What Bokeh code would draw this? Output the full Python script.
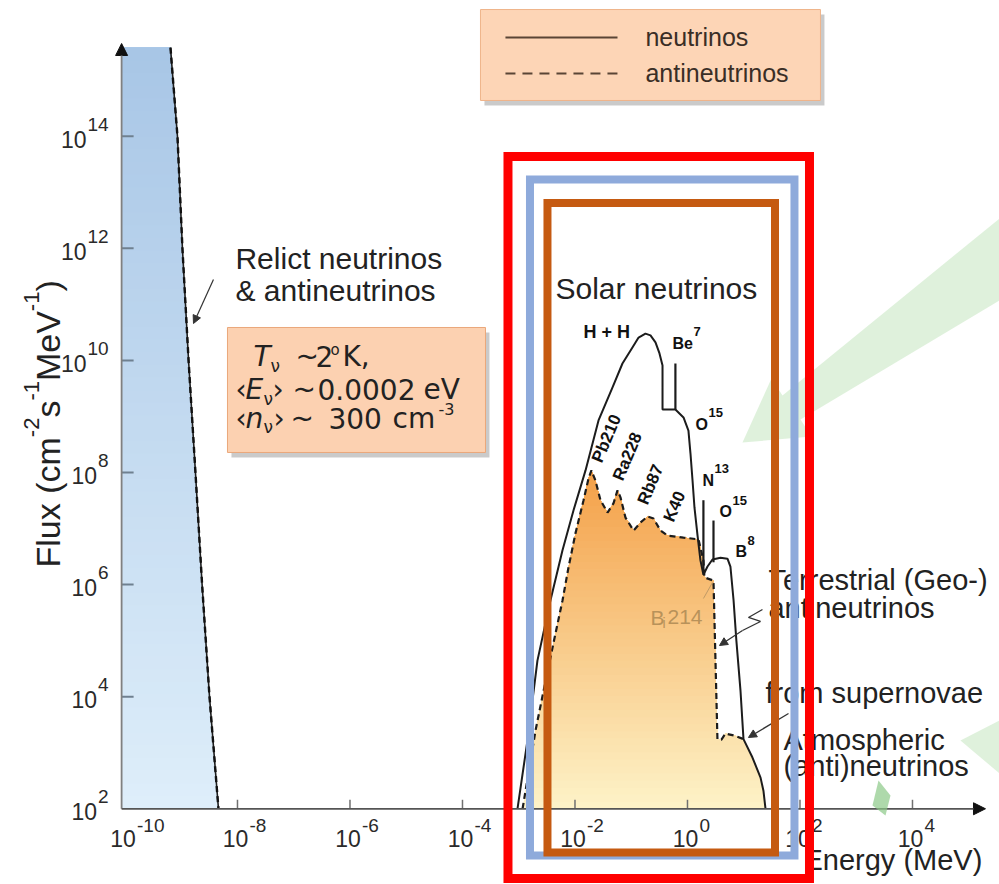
import numpy as np
from bokeh.plotting import figure
from bokeh.models import Range1d, Arrow, NormalHead
from bokeh.core.properties import value
from bokeh.embed import file_html
from bokeh.resources import INLINE

# ---------------- data (E in MeV, flux in cm^-2 s^-1 MeV^-1) ----------------
relict_E = [6.44e-10, 8.57e-10, 1.05e-9, 1.35e-9, 1.79e-9, 2.35e-9, 3.18e-9, 4.59e-9]
relict_flux = [3.8e15, 1e14, 1e12, 1e10, 1e8, 1e6, 1e4, 1e2]

solar_E = [9.5e-4, 1.43e-3, 2.15e-3, 3.66e-3, 6.0e-3, 9.4e-3, 1.54e-2, 2.62e-2, 4.65e-2, 6.98e-2,
           0.105, 0.135, 0.179, 0.22, 0.27, 0.318, 0.36, 0.36, 0.61, 0.85,
           1.04, 1.13, 1.23, 1.33, 1.51, 1.70, 1.92, 2.27, 2.78, 3.86,
           5.14, 5.8, 6.6, 7.4, 8.75, 9.9]
solar_flux = [1e2, 1.66e3, 4.4e4, 5.2e5, 4.1e6, 2.1e7, 1.09e8, 8.5e8, 3.3e9, 8.8e9,
              1.7e10, 2.56e10, 3.0e10, 2.8e10, 2.1e10, 1.33e10, 8.1e9, 1.33e9, 1.33e9, 9.6e8,
              5.6e8, 2.2e8, 7.2e7, 2.4e7, 7.5e6, 2.7e6, 1.5e6, 2.1e6, 2.8e6, 3.0e6,
              2.9e6, 2.1e6, 5.2e5, 1.0e5, 1.3e4, 1.75e3]

geo_E = [1.17e-3, 1.99e-3, 3.0e-3, 4.5e-3, 6.0e-3, 7.65e-3, 1.02e-2, 1.42e-2, 1.74e-2, 1.96e-2,
         2.31e-2, 2.84e-2, 3.79e-2, 4.83e-2, 5.7e-2, 6.44e-2, 7.9e-2, 0.11, 0.146, 0.195,
         0.249, 0.331, 0.44, 0.85, 1.57, 1.92, 2.0, 2.9, 3.41, 4.02, 4.74, 7.1, 9.9]
geo_flux = [1e2, 2.5e3, 1.9e4, 1.34e5, 5.2e5, 2.0e6, 8.2e6, 3.2e7, 7.8e7, 1.09e8,
            7.2e7, 3.2e7, 1.93e7, 2.8e7, 4.8e7, 3.6e7, 1.57e7, 9.2e6, 1.28e7, 1.64e7,
            1.51e7, 9.2e6, 7.5e6, 6.9e6, 6.4e6, 2.7e6, 1.34e6, 1.18e6, 1.72e3, 1.72e3,
            2.2e3, 2.0e3, 1.75e3]

snatm_E = [9.9, 14.3, 19.9, 22.4, 24.4]
snatm_flux = [1.75e3, 820, 360, 210, 1e2]

be7_E = [0.61, 0.61]
be7_flux = [1.33e9, 8.8e9]
n13_E = [1.92, 1.92]
n13_flux = [1.64e6, 3.2e7]
o15_E = [2.9, 2.9]
o15_flux = [2.5e6, 1.39e7]

x_tick_exp = [-10, -8, -6, -4, -2, 0, 2, 4]
y_tick_exp = [2, 4, 6, 8, 10, 12, 14]

# ---------------- figure ----------------
W, H = 999, 884
LX0, LX1 = -12.213, 5.547
LY0, LY1 = 0.649, 16.421
PPD_X = W / (LX1 - LX0)   # pixels per decade
PPD_Y = H / (LY1 - LY0)

p = figure(width=W, height=H, x_axis_type="log", y_axis_type="log",
           x_range=Range1d(10 ** LX0, 10 ** LX1), y_range=Range1d(10 ** LY0, 10 ** LY1),
           toolbar_location=None, output_backend="svg", min_border=0,
           x_axis_location=None, y_axis_location=None, title=None,
           outline_line_color=None, background_fill_color="white", border_fill_color="white")
p.grid.visible = False

LXAX = -10.06          # position of the vertical axis (log10 MeV)
LYAX = 2.0             # position of the horizontal axis (log10 flux)


def E(v):
    return 10 ** v


def txt(le, lf, s, size, font="Liberation Sans", style="normal", align="left",
        baseline="middle", color="#222222", angle=0.0):
    return p.text(x=[E(le)], y=[E(lf)], text=[s], text_font=value(font),
                  text_font_size=value(f"{size}px"), text_font_style=style,
                  text_align=align, text_baseline=baseline, text_color=color, angle=angle)


def hex2rgb(h):
    h = h.lstrip("#")
    return tuple(int(h[i:i + 2], 16) for i in (0, 2, 4))


def mix(c0, c1, t):
    a, b = hex2rgb(c0), hex2rgb(c1)
    return "#%02x%02x%02x" % tuple(int(round(a[i] + (b[i] - a[i]) * t)) for i in range(3))


def clip_above(poly, a):
    """keep the part of a (log-space) polygon with y >= a"""
    out = []
    n = len(poly)
    for i in range(n):
        cur, prev = poly[i], poly[i - 1]
        cin, pin = cur[1] >= a, prev[1] >= a
        if cin != pin:
            t = (a - prev[1]) / (cur[1] - prev[1])
            out.append((prev[0] + t * (cur[0] - prev[0]), a))
        if cin:
            out.append(cur)
    return out


def gradient_fill(poly, lo, hi, c_lo, c_hi, n):
    """vertical gradient: bands painted bottom-up, each covering everything above its floor"""
    xs, ys, cols = [], [], []
    step = (hi - lo) / n
    for i in range(n):
        a = lo + i * step
        q = poly if i == 0 else clip_above(poly, a)
        if len(q) < 3:
            continue
        c = mix(c_lo, c_hi, (i + 0.5) / n)
        xs.append([E(x) for x, _ in q])
        ys.append([E(y) for _, y in q])
        cols.append(c)
    p.patches(xs=xs, ys=ys, fill_color=cols, line_color=None)


# ---------------- gradient fills ----------------
rel_log = list(zip(np.log10(relict_E), np.log10(relict_flux)))
relict_poly = [(LXAX, LYAX), (LXAX, rel_log[0][1])] + rel_log
gradient_fill(relict_poly, LYAX, rel_log[0][1], "#deeefa", "#a8c6e6", 60)

geo_log = list(zip(np.log10(geo_E), np.log10(geo_flux)))
tail_log = list(zip(np.log10(snatm_E), np.log10(snatm_flux)))
orange_poly = geo_log + tail_log[1:]
gradient_fill(orange_poly, LYAX, max(pt[1] for pt in geo_log), "#fdf3c8", "#f4a048", 48)

# faint green decorations (from the source slide)
p.patch([E(0.978), E(1.493), E(1.689), E(5.547), E(5.547), E(2.009), E(2.204)],
        [E(8.535), E(9.677), E(9.374), E(12.532), E(11.069), E(8.946), E(8.642)],
        fill_color="#dcefd8", fill_alpha=0.9, line_color=None)
p.patch([E(4.853), E(5.547), E(5.547)], [E(3.219), E(3.575), E(2.630)],
        fill_color="#dcefd8", fill_alpha=0.9, line_color=None)

# ---------------- curves ----------------
p.line(relict_E, relict_flux, line_color="#1e1e1e", line_width=1.6)
p.line(relict_E, relict_flux, line_color="#111111", line_width=2.4, line_dash="6 4")

p.line(geo_E, geo_flux, line_color="#1c1c1c", line_width=2.2, line_dash="6 4")
p.line(solar_E + snatm_E[1:], solar_flux + snatm_flux[1:], line_color="#1c1c1c", line_width=2)
p.multi_line([be7_E, n13_E, o15_E], [be7_flux, n13_flux, o15_flux],
             line_color="#1c1c1c", line_width=2.2)

# ---------------- axes ----------------
y_tick_rows = [E(k) for k in y_tick_exp[1:]]
p.segment(x0=[E(LXAX)] * len(y_tick_rows), y0=y_tick_rows,
          x1=[E(LXAX + 12 / PPD_X)] * len(y_tick_rows), y1=y_tick_rows,
          line_color="#6f8090", line_width=2)
x_tick_cols = [E(k) for k in x_tick_exp[1:]]
p.segment(x0=x_tick_cols, y0=[E(LYAX)] * len(x_tick_cols),
          x1=x_tick_cols, y1=[E(LYAX + 9 / PPD_Y)] * len(x_tick_cols),
          line_color="#707070", line_width=1.5)

p.add_layout(Arrow(end=NormalHead(size=12, fill_color="#111111", line_color="#111111"),
                   x_start=E(LXAX), y_start=E(LYAX), x_end=E(LXAX), y_end=E(15.654),
                   line_color="#808080", line_width=1.8))
p.add_layout(Arrow(end=NormalHead(size=12, fill_color="#111111", line_color="#111111"),
                   x_start=E(LXAX), y_start=E(LYAX), x_end=E(5.298), y_end=E(LYAX),
                   line_color="#555555", line_width=1.8))

TF = "Liberation Sans"
for k in x_tick_exp:
    txt(k - 2 / PPD_X, LYAX - 29.6 / PPD_Y, "10", 23, font=TF, align="center", color="#2a2a2a")
    txt(k + 12 / PPD_X, LYAX - 16.6 / PPD_Y, str(k), 19, font=TF, color="#2a2a2a")
sup_right = LXAX - 13 / PPD_X
for k in y_tick_exp:
    s = str(k)
    txt(sup_right, k + 12 / PPD_Y, s, 19, font=TF, align="right", color="#2a2a2a")
    txt(sup_right - (len(s) * 10.5 + 1) / PPD_X, k - 3 / PPD_Y, "10", 23, font=TF,
        align="right", color="#2a2a2a")

# y-axis title, built piece by piece (rotated, reading upward)
ylab_pieces = [("Flux (cm", 34, False, 3.833), ("-2", 22, True, 0.889), ("s", 34, False, 0.5),
               ("-1", 22, True, 0.889), ("MeV", 34, False, 2.056), ("-1", 22, True, 0.889),
               (")", 34, False, 0.333)]
lf_pos = 6.305
for s, size, sup, em in ylab_pieces:
    txt(-11.662 if sup else -11.36, lf_pos, s, size, baseline="alphabetic", angle=np.pi / 2)
    lf_pos += em * size / PPD_Y

txt(2.062, 1.078, "Energy (MeV)", 29)

# ---------------- legend box ----------------
p.quad(left=E(-3.609), right=E(2.435), bottom=E(14.548), top=E(16.17),
       fill_color="#8a8a8a", fill_alpha=0.45, line_color=None)
p.quad(left=E(-3.680), right=E(2.364), bottom=E(14.637), top=E(16.26),
       fill_color="#fdd5b6", line_color="#efb48a", line_width=1)
p.line([E(-3.236), E(-1.244)], [E(15.761)] * 2, line_color="#5a4535", line_width=2)
p.line([E(-3.236), E(-1.244)], [E(15.119)] * 2, line_color="#5a4535", line_width=2,
       line_dash="10 7")
txt(-0.747, 15.761, "neutrinos", 25, color="#3a2e26")
txt(-0.747, 15.119, "antineutrinos", 25, color="#3a2e26")

# ---------------- relict annotations ----------------
txt(-8.036, 11.818, "Relict neutrinos", 30)
txt(-8.036, 11.247, "& antineutrinos", 30)
p.add_layout(Arrow(end=NormalHead(size=8, fill_color="#333333", line_color="#333333"),
                   x_start=E(-8.427), y_start=E(11.443), x_end=E(-8.782), y_end=E(10.658),
                   line_color="#333333", line_width=1.2))
p.quad(left=E(-8.107), right=E(-3.520), bottom=E(8.268), top=E(10.498),
       fill_color="#8a8a8a", fill_alpha=0.45, line_color=None)
p.quad(left=E(-8.178), right=E(-3.591), bottom=E(8.357), top=E(10.587),
       fill_color="#fcd1b1", line_color="#eaa77b", line_width=1)
BF = "DejaVu Sans"
txt(-7.716, 10.070, "T", 28, font=BF, style="italic")
txt(-7.413, 9.891, "\u03bd", 17, font=BF)
txt(-6.969, 10.070, "~", 28, font=BF)
txt(-6.613, 10.070, "2", 28, font=BF)
txt(-6.347, 10.194, "o", 15, font=BF)
txt(-6.133, 10.070, "K,", 28, font=BF)
txt(-8.036, 9.481, "\u2039", 28, font=BF)
txt(-7.858, 9.481, "E", 28, font=BF, style="italic")
txt(-7.538, 9.320, "\u03bd", 17, font=BF)
txt(-7.378, 9.481, "\u203a", 28, font=BF)
txt(-7.022, 9.481, "~", 28, font=BF)
txt(-6.578, 9.481, "0.0002", 28, font=BF)
txt(-4.693, 9.481, "eV", 28, font=BF)
txt(-8.036, 8.963, "\u2039", 28, font=BF)
txt(-7.858, 8.963, "n", 28, font=BF, style="italic")
txt(-7.538, 8.803, "\u03bd", 17, font=BF)
txt(-7.360, 8.963, "\u203a", 28, font=BF)
txt(-7.058, 8.963, "~", 28, font=BF)
txt(-6.382, 8.963, "300", 28, font=BF)
txt(-5.244, 8.963, "cm", 28, font=BF)
txt(-4.427, 9.124, "-3", 16, font=BF)

# ---------------- solar / geo annotations ----------------
txt(-2.347, 11.283, "Solar neutrinos", 30)
txt(-1.849, 10.498, "H + H", 18, style="bold", color="#111111")
for le, lf, s, sle, slf, ss in [(-0.267, 10.302, "Be", 0.107, 10.516, "7"),
                                (0.142, 8.856, "O", 0.373, 9.070, "15"),
                                (0.267, 7.857, "N", 0.480, 8.071, "13"),
                                (0.569, 7.304, "O", 0.800, 7.500, "15"),
                                (0.853, 6.591, "B", 1.067, 6.787, "8")]:
    txt(le, lf, s, 16, style="bold", color="#111111")
    txt(sle, slf, ss, 13, style="bold", color="#111111")
for le, lf, s in [(-1.440, 8.607, "Pb210"), (-1.067, 8.285, "Ra228"),
                  (-0.658, 7.786, "Rb87"), (-0.231, 7.393, "K40")]:
    txt(le, lf, s, 17, style="bold", align="center", color="#111111",
        angle=np.radians(67))
txt(-0.658, 5.413, "B", 21, color="#b8925a")
txt(-0.444, 5.306, "i", 14, color="#b8925a")
txt(-0.356, 5.413, "214", 21, color="#b8925a")
p.line([E(0.284), E(0.444)], [E(5.752), E(6.037)], line_color="#c09a66", line_width=1)

txt(1.440, 6.073, "Terrestrial (Geo-)", 29)
txt(1.440, 5.591, "antineutrinos", 29)
p.line([E(1.333), E(1.084), E(1.298), E(0.978)], [E(5.556), E(5.413), E(5.342), E(5.181)],
       line_color="#333333", line_width=1.3)
p.add_layout(Arrow(end=NormalHead(size=8, fill_color="#333333", line_color="#333333"),
                   x_start=E(0.978), y_start=E(5.181), x_end=E(0.569), y_end=E(4.913),
                   line_color="#333333", line_width=1.3))
txt(1.387, 4.057, "from supernovae", 29)
txt(1.707, 3.219, "Atmospheric", 29)
txt(1.707, 2.755, "(anti)neutrinos", 29)
p.add_layout(Arrow(end=NormalHead(size=8, fill_color="#333333", line_color="#333333"),
                   x_start=E(1.796), y_start=E(3.700), x_end=E(1.084), y_end=E(3.272),
                   line_color="#333333", line_width=1.3))

# ---------------- highlight frames drawn on the slide ----------------
blob = p.patch([E(3.396), E(3.609), E(3.520), E(3.289)], [E(2.505), E(2.237), E(1.880), E(2.059)],
               fill_color="#8cc987", fill_alpha=0.7, line_color=None)
blob.level = "overlay"
for l, r, t, b, c, w in [(-3.191, 2.169, 13.638, 0.756, "#ff0000", 9),
                         (-2.800, 1.902, 13.228, 1.167, "#8eaadb", 8),
                         (-2.489, 1.556, 12.808, 1.220, "#c55a11", 8)]:
    rr = p.quad(left=E(l), right=E(r), top=E(t), bottom=E(b), fill_alpha=0,
                line_color=c, line_width=w, line_join="miter")
    rr.level = "overlay"

open("out.html", "w").write(file_html(p, INLINE))
